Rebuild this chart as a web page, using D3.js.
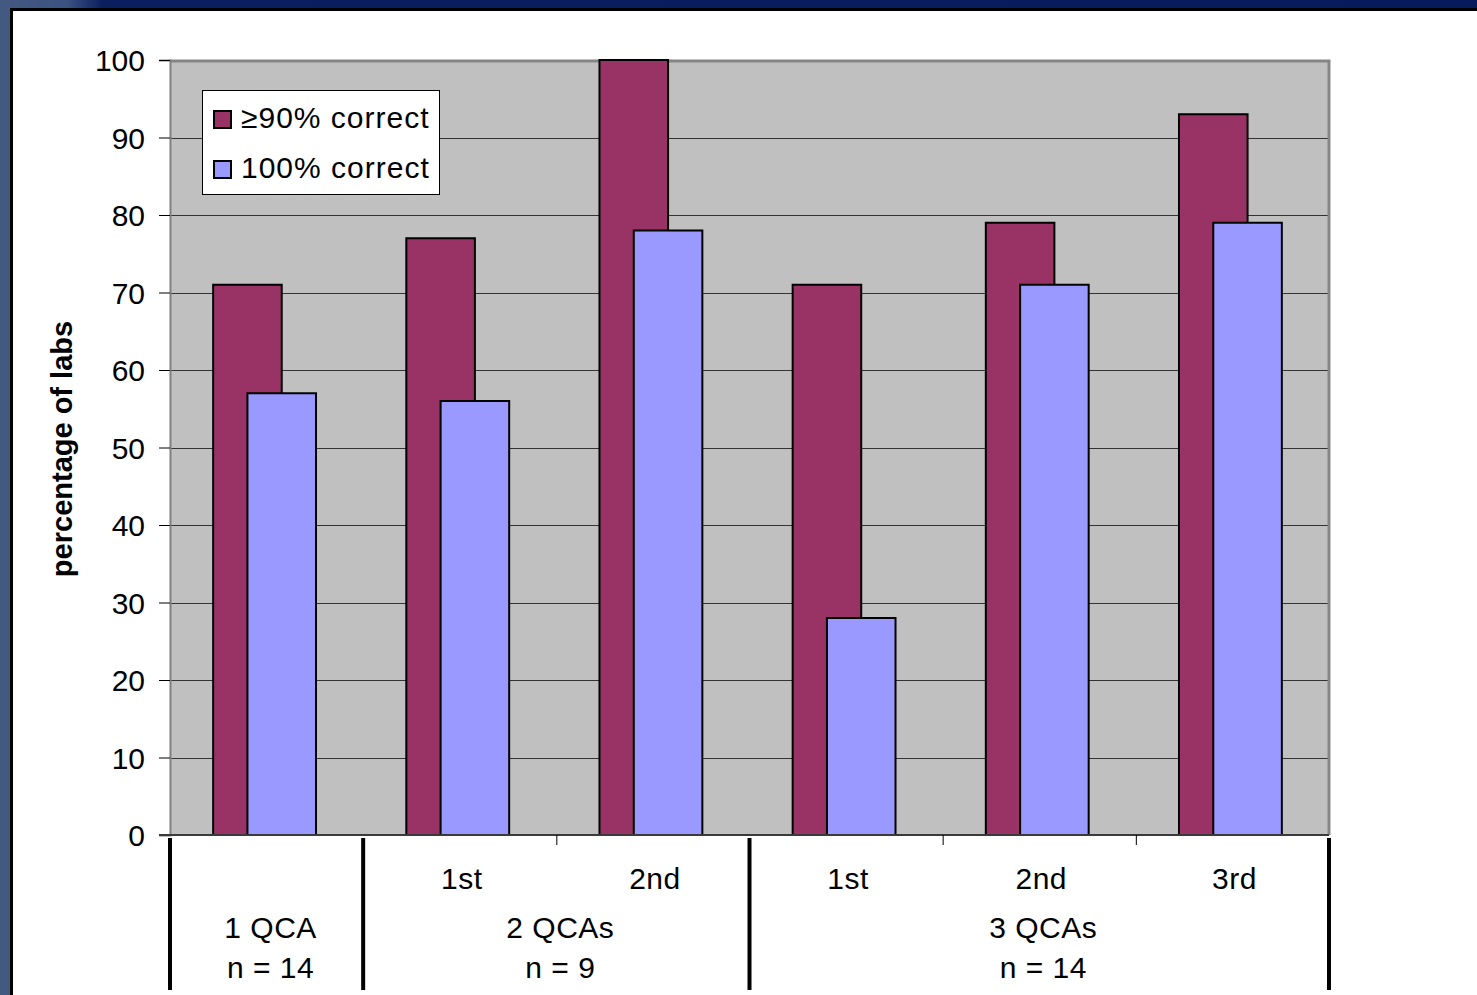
<!DOCTYPE html>
<html>
<head>
<meta charset="utf-8">
<script src="https://cdn.jsdelivr.net/npm/d3@7"></script>
<style>
  html, body { margin: 0; padding: 0; background: #fff; }
  svg { display: block; }
  text { font-family: "Liberation Sans", Arial, sans-serif; fill: #000; }
</style>
</head>
<body>
<svg id="chart" width="1477" height="995"></svg>
<script>
// QCA rounds: group, round label within the group, and share of labs per accuracy level
const groupNames = ["1 QCA", "2 QCAs", "3 QCAs"];
const groupSizes = ["n = 14", "n = 9", "n = 14"];
const slotGroup  = [0, 1, 1, 2, 2, 2];
const slotLabels = ["", "1st", "2nd", "1st", "2nd", "3rd"];
const seriesNames = ["\u226590% correct", "100% correct"];
const atLeast90 = [71, 77, 100, 71, 79, 93];
const exact100  = [57, 56, 78, 28, 71, 79];
const yTicks = [0, 10, 20, 30, 40, 50, 60, 70, 80, 90, 100];

const svg = d3.select("#chart");
const W = 1477, H = 995;
const FS = "30px";

// slide frame: dark band on top, slate band on the left
const defs = svg.append("defs");
const grad = defs.append("linearGradient").attr("id", "topBand")
  .attr("x1", "0").attr("x2", "1").attr("y1", "0").attr("y2", "0");
grad.append("stop").attr("offset", "0").attr("stop-color", "#44597f");
grad.append("stop").attr("offset", "0.045").attr("stop-color", "#3c5382");
grad.append("stop").attr("offset", "0.07").attr("stop-color", "#0a1e60");
grad.append("stop").attr("offset", "1").attr("stop-color", "#061a5c");
svg.append("rect").attr("x", 0).attr("y", 0).attr("width", W).attr("height", H).attr("fill", "#fff");
svg.append("rect").attr("x", 0).attr("y", 0).attr("width", W).attr("height", 9).attr("fill", "url(#topBand)");
svg.append("rect").attr("x", 0).attr("y", 0).attr("width", 10).attr("height", H).attr("fill", "#44597f");
svg.append("rect").attr("x", 10).attr("y", 8).attr("width", W - 10).attr("height", 3).attr("fill", "#000");
svg.append("rect").attr("x", 10).attr("y", 8).attr("width", 3).attr("height", H - 8).attr("fill", "#000");

// plot geometry
const plotL = 170, plotR = 1329, plotT = 60, plotB = 835;
const x = d3.scaleBand().domain(d3.range(slotLabels.length)).range([plotL, plotR]).padding(0);
const y = d3.scaleLinear().domain([0, 100]).range([plotB, plotT]);
const slot = x.bandwidth();
const bw = slot * 0.355;

// plot background
svg.append("rect").attr("x", plotL).attr("y", plotT).attr("width", plotR - plotL).attr("height", plotB - plotT)
  .attr("fill", "#c0c0c0");

// horizontal gridlines
svg.append("g").selectAll("line").data(yTicks.filter(d => d > 0 && d < 100)).join("line")
  .attr("x1", plotL).attr("x2", plotR)
  .attr("y1", d => Math.round(y(d)) + 0.5).attr("y2", d => Math.round(y(d)) + 0.5)
  .attr("stroke", "#333").attr("stroke-width", 1);

// plot border (top and right)
svg.append("path")
  .attr("d", `M${plotL},${plotT + 1}H${plotR}V${plotB}`)
  .attr("fill", "none").attr("stroke", "#858585").attr("stroke-width", 3);

// bars: first series sits behind, second overlaps by half a bar
const barsA = svg.append("g");
barsA.selectAll("rect").data(atLeast90).join("rect")
  .attr("x", (d, i) => x(i) + slot / 2 - 0.75 * bw - 2)
  .attr("y", d => y(d))
  .attr("width", bw)
  .attr("height", d => y(0) - y(d))
  .attr("fill", "#993366").attr("stroke", "#000").attr("stroke-width", 2);
const barsB = svg.append("g");
barsB.selectAll("rect").data(exact100).join("rect")
  .attr("x", (d, i) => x(i) + slot / 2 - 0.25 * bw - 2)
  .attr("y", d => y(d))
  .attr("width", bw)
  .attr("height", d => y(0) - y(d))
  .attr("fill", "#9999ff").attr("stroke", "#000").attr("stroke-width", 2);

// y axis
const yAxis = d3.axisLeft(y).tickValues(yTicks).tickSize(11).tickPadding(14);
const gy = svg.append("g").attr("transform", `translate(${plotL},0)`).call(yAxis);
gy.select(".domain").attr("stroke", "#808080").attr("stroke-width", 2);
gy.selectAll(".tick line").attr("stroke", "#000");
gy.selectAll(".tick text").style("font-size", FS).attr("dy", "0.35em")
  .style("font-family", "'Liberation Sans', Arial, sans-serif");

// x baseline
svg.append("line").attr("x1", plotL - 11).attr("x2", plotR).attr("y1", plotB).attr("y2", plotB)
  .attr("stroke", "#3a3a3a").attr("stroke-width", 2);

// group separators below the axis (thick) and round ticks within groups (thin)
const boundaries = d3.range(slotLabels.length + 1);
const isGroupEdge = b => b === 0 || b === slotLabels.length || slotGroup[b] !== slotGroup[b - 1];
const bx = b => b < slotLabels.length ? x(b) : plotR;
svg.append("g").selectAll("line").data(boundaries.filter(isGroupEdge)).join("line")
  .attr("x1", bx).attr("x2", bx).attr("y1", plotB + 3).attr("y2", 990)
  .attr("stroke", "#000").attr("stroke-width", 4);
svg.append("g").selectAll("line").data(boundaries.filter(b => !isGroupEdge(b))).join("line")
  .attr("x1", b => bx(b) + 0.5).attr("x2", b => bx(b) + 0.5).attr("y1", plotB).attr("y2", plotB + 10)
  .attr("stroke", "#000").attr("stroke-width", 1);

// round labels
svg.append("g").selectAll("text").data(slotLabels).join("text")
  .attr("x", (d, i) => x(i) + slot / 2 + 2)
  .attr("y", 889)
  .attr("text-anchor", "middle").style("font-size", FS).style("letter-spacing", "0.5px")
  .text(d => d);

// group labels with lab counts
const groupCenter = g => {
  const idx = slotGroup.map((s, i) => s === g ? i : -1).filter(i => i >= 0);
  return (x(idx[0]) + x(idx[idx.length - 1]) + slot) / 2;
};
const gl = svg.append("g").selectAll("g").data(groupNames).join("g");
gl.append("text").attr("x", (d, g) => groupCenter(g) + 4).attr("y", 938)
  .attr("text-anchor", "middle").style("font-size", FS).style("letter-spacing", "0.5px").text(d => d);
gl.append("text").attr("x", (d, g) => groupCenter(g) + 4).attr("y", 978)
  .attr("text-anchor", "middle").style("font-size", FS).style("letter-spacing", "0.5px").text((d, g) => groupSizes[g]);

// y axis title
svg.append("text")
  .attr("transform", `translate(72,449) rotate(-90)`)
  .attr("text-anchor", "middle").style("font-size", "29px").style("font-weight", "bold")
  .text("percentage of labs");

// legend
const legend = svg.append("g");
legend.append("rect").attr("x", 202.5).attr("y", 90.5).attr("width", 237).attr("height", 104)
  .attr("fill", "#fff").attr("stroke", "#000").attr("stroke-width", 1);
const legendColors = ["#993366", "#9999ff"];
const li = legend.selectAll("g").data(seriesNames).join("g")
  .attr("transform", (d, i) => `translate(0,${i * 50})`);
li.append("rect").attr("x", 214).attr("y", 111).attr("width", 17).attr("height", 17)
  .attr("fill", (d, i) => legendColors[i]).attr("stroke", "#000").attr("stroke-width", 2);
li.append("text").attr("x", 241).attr("y", 128).style("font-size", FS).style("letter-spacing", "1px")
  .text(d => d);
</script>
</body>
</html>
